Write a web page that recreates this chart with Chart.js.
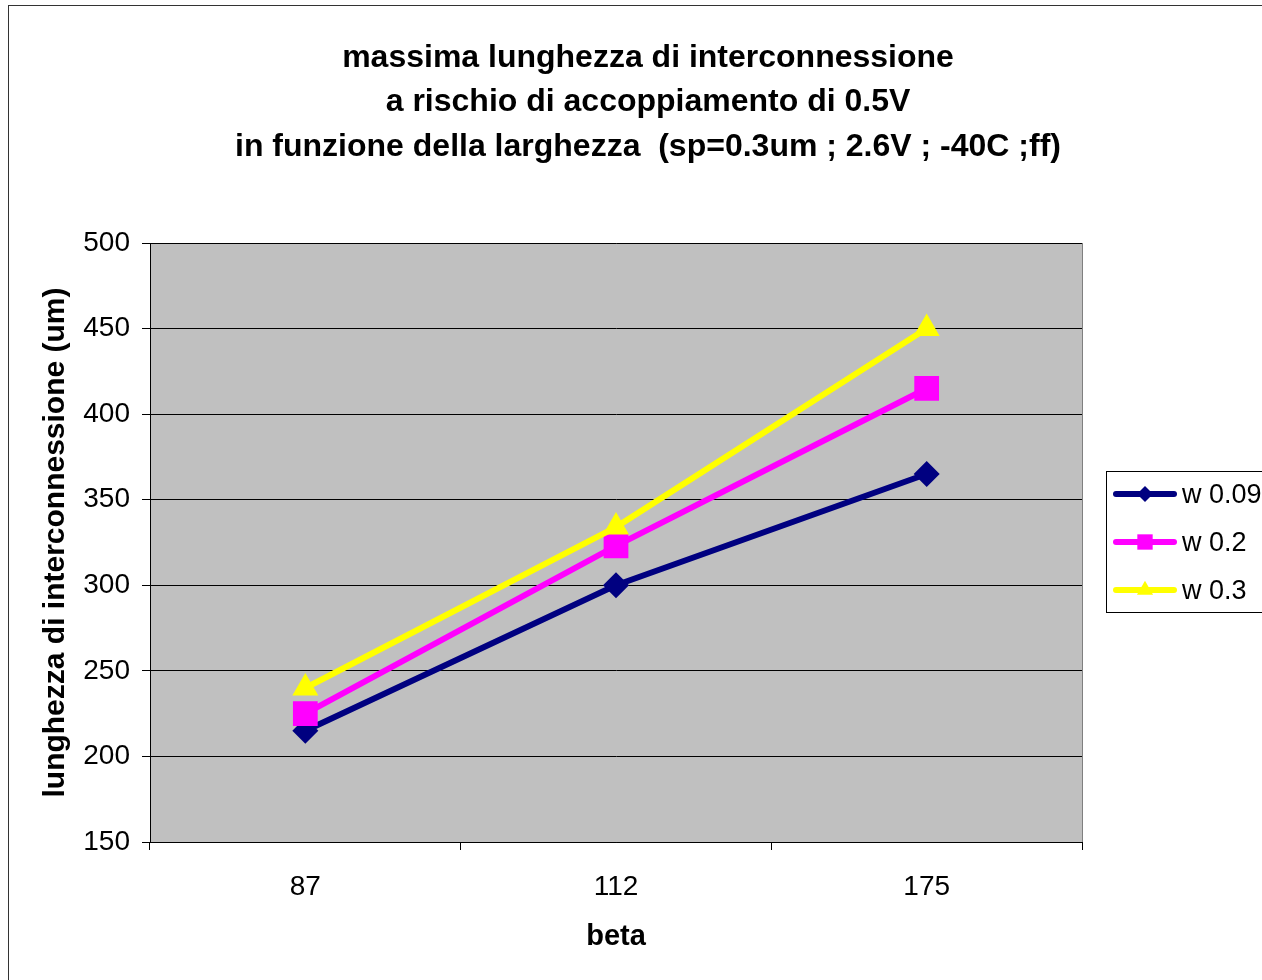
<!DOCTYPE html>
<html>
<head>
<meta charset="utf-8">
<title>massima lunghezza di interconnessione</title>
<script src="https://cdn.jsdelivr.net/npm/chart.js@4.4.1/dist/chart.umd.min.js"></script>
<style>
  html, body { margin: 0; padding: 0; background: #fff; overflow: hidden; }
  #wrap { position: relative; width: 1262px; height: 980px; }
</style>
</head>
<body>
<div id="wrap"><canvas id="chart" width="1262" height="980"></canvas></div>
<script>
// ---- data ----
const betaLabels = ['87', '112', '175'];
const w009 = [215, 300, 365];
const w02 = [225, 323, 415];
const w03 = [240, 334, 450];

const seriesNames = ['w 0.09', 'w 0.2', 'w 0.3'];
const seriesColors = ['#000080', '#FF00FF', '#FFFF00'];
const seriesMarkers = ['rectRot', 'rect', 'triangle'];
const seriesRadius = [13, 17.5, 15];

const titleLines = [
    'massima lunghezza di interconnessione',
    'a rischio di accoppiamento di 0.5V',
    'in funzione della larghezza  (sp=0.3um ; 2.6V ; -40C ;ff)'
];

const FONT = '"Liberation Sans", Arial, sans-serif';

// ---- helpers ----
function drawMarker(ctx, style, x, y, r, color) {
    ctx.save();
    ctx.fillStyle = color;
    ctx.beginPath();
    if (style === 'rectRot') {
        ctx.moveTo(x, y - r); ctx.lineTo(x + r, y); ctx.lineTo(x, y + r); ctx.lineTo(x - r, y);
    } else if (style === 'rect') {
        const s = r * Math.SQRT1_2;
        ctx.rect(x - s, y - s, 2 * s, 2 * s);
    } else {
        ctx.moveTo(x, y - r);
        ctx.lineTo(x + r * Math.sin(Math.PI / 3), y + r / 2);
        ctx.lineTo(x - r * Math.sin(Math.PI / 3), y + r / 2);
    }
    ctx.closePath();
    ctx.fill();
    ctx.restore();
}

// outer frame, gray plot area, multi-line title and the legend box
const backdropPlugin = {
    id: 'backdrop',
    beforeDraw(chart) {
        const { ctx, chartArea: a } = chart;
        ctx.save();
        ctx.fillStyle = '#fff';
        ctx.fillRect(0, 0, chart.width, chart.height);
        ctx.strokeStyle = '#333';
        ctx.lineWidth = 1;
        ctx.strokeRect(8.5, 5.5, chart.width + 20, chart.height + 20);
        ctx.fillStyle = '#C0C0C0';
        ctx.fillRect(a.left, a.top, a.right - a.left, a.bottom - a.top);
        ctx.strokeStyle = '#808080';
        ctx.strokeRect(a.left + 0.5, a.top + 0.5, a.right - a.left, a.bottom - a.top);

        ctx.fillStyle = '#000';
        ctx.font = 'bold 32px ' + FONT;
        ctx.textAlign = 'center';
        ctx.textBaseline = 'middle';
        titleLines.forEach((t, i) => ctx.fillText(t, 648, 58 + i * 44.5));
        ctx.restore();
    },
    afterDraw(chart) {
        const { ctx } = chart;
        ctx.save();
        ctx.fillStyle = '#fff';
        ctx.fillRect(1106, 471, 200, 141);
        ctx.strokeStyle = '#000';
        ctx.lineWidth = 1;
        ctx.strokeRect(1106.5, 471.5, 200, 141);
        ctx.font = '27px ' + FONT;
        ctx.textBaseline = 'middle';
        ctx.textAlign = 'left';
        chart.data.datasets.forEach((ds, i) => {
            const y = 494 + i * 48;
            ctx.strokeStyle = ds.borderColor;
            ctx.lineWidth = 6;
            ctx.lineCap = 'round';
            ctx.beginPath();
            ctx.moveTo(1116, y);
            ctx.lineTo(1174, y);
            ctx.stroke();
            drawMarker(ctx, seriesMarkers[i], 1145, y, seriesRadius[i] * 0.62, ds.borderColor);
            ctx.fillStyle = '#000';
            ctx.fillText(ds.label, 1182, y + 2);
        });
        ctx.restore();
    }
};

const seriesValues = [w009, w02, w03];

new Chart(document.getElementById('chart'), {
    type: 'line',
    data: {
        labels: betaLabels,
        datasets: seriesValues.map((vals, i) => ({
            label: seriesNames[i],
            data: vals,
            borderColor: seriesColors[i],
            backgroundColor: seriesColors[i],
            borderWidth: 6,
            pointStyle: seriesMarkers[i],
            pointRadius: seriesRadius[i],
            pointBorderWidth: 0,
            pointHoverRadius: seriesRadius[i],
            tension: 0,
            order: 2 - i
        }))
    },
    options: {
        responsive: false,
        animation: false,
        events: [],
        layout: { padding: { top: 243, right: 180, left: 0, bottom: 0 } },
        plugins: {
            legend: { display: false },
            title: { display: false },
            tooltip: { enabled: false }
        },
        scales: {
            x: {
                offset: true,
                afterFit(scale) { scale.height = 138; },
                grid: {
                    offset: true,
                    drawOnChartArea: false,
                    tickLength: 8,
                    color: '#000'
                },
                border: { color: '#000', width: 1 },
                ticks: { color: '#000', padding: 20, font: { family: FONT, size: 28 } },
                title: {
                    display: true,
                    text: 'beta',
                    color: '#000',
                    font: { family: FONT, size: 29, weight: 'bold' },
                    padding: { top: 0, bottom: 26 }
                }
            },
            y: {
                min: 150,
                max: 500,
                afterFit(scale) { scale.width = 150; },
                ticks: { stepSize: 50, color: '#000', padding: 12, font: { family: FONT, size: 28 } },
                grid: { color: '#000', tickLength: 8, lineWidth: 1 },
                border: { color: '#000', width: 1 },
                title: {
                    display: true,
                    text: 'lunghezza di interconnessione (um)',
                    color: '#000',
                    font: { family: FONT, size: 30, weight: 'bold' },
                    padding: { top: 38, bottom: 0 }
                }
            }
        }
    },
    plugins: [backdropPlugin]
});
</script>
</body>
</html>
